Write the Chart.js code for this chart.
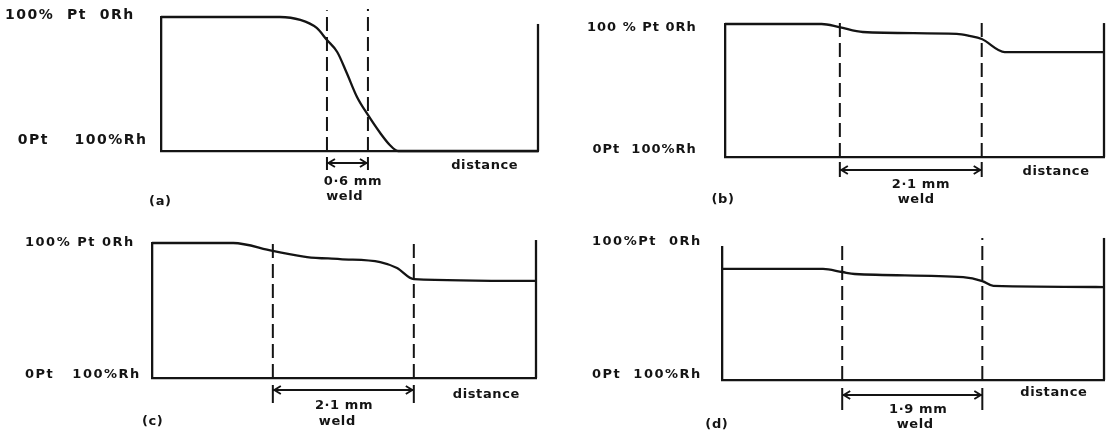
<!DOCTYPE html>
<html><head><meta charset="utf-8">
<script src="https://cdn.jsdelivr.net/npm/chart.js@4"></script>
<style>
html,body{margin:0;padding:0;background:#fff;}
body{width:1109px;height:437px;position:relative;overflow:hidden;}
.p{position:absolute;}
</style></head><body>
<div class="p" style="left:0;top:0;width:554px;height:218px"><canvas id="ca"></canvas></div>
<div class="p" style="left:554px;top:0;width:555px;height:218px"><canvas id="cb"></canvas></div>
<div class="p" style="left:0;top:218px;width:554px;height:219px"><canvas id="cc"></canvas></div>
<div class="p" style="left:554px;top:218px;width:555px;height:219px"><canvas id="cd"></canvas></div>
<script>
// ---- data (distance in mm, composition in % Pt) ----
const aX = [0, 1.74, 2.04, 2.28, 2.43, 2.58, 2.72, 2.87, 3.03, 3.21, 3.35, 3.47, 5.52];
const aY = [100, 100, 97.8, 91.8, 82.8, 73.9, 58.2, 40.3, 26.9, 13.4, 4.5, 0, 0];
const bX = [0, 1.43, 1.69, 2.04, 3.43, 3.62, 3.80, 4.14, 5.61];
const bY = [100, 100, 97.7, 94.0, 92.5, 91.0, 88.7, 78.9, 78.9];
const cX = [0, 1.21, 1.80, 2.31, 2.80, 3.40, 3.65, 3.90, 5.72];
const cY = [100, 100, 94.1, 89.6, 88.1, 85.9, 81.5, 73.3, 71.9];
const dX = [0, 1.37, 1.63, 1.80, 3.27, 3.53, 3.68, 5.18];
const dY = [83.5, 83.5, 81.2, 79.7, 77.4, 74.4, 70.7, 69.9];

const weldA = [2.43, 3.03];
const weldB = [1.70, 3.80];
const weldC = [1.80, 3.90];
const weldD = [1.63, 3.53];

const yLabelsA = ["100%  Pt  0Rh", "  0Pt    100%Rh"];
const yLabelsB = ["100 % Pt 0Rh", " 0Pt  100%Rh"];
const yLabelsC = ["100% Pt 0Rh", "0Pt   100%Rh"];
const yLabelsD = ["100%Pt  0Rh", "0Pt  100%Rh"];

const weldTextA = ["0·6 mm", "weld"];
const weldTextB = ["2·1 mm", "weld"];
const weldTextC = ["2·1 mm", "weld"];
const weldTextD = ["1·9 mm", "weld"];
const axisText = "distance";
const panelTags = ["(a)", "(b)", "(c)", "(d)"];

// ---- layout / style ----
const INK = '#141414';
const FONT = '"DejaVu Sans", sans-serif';

const panels = [
  { id:'ca', xs:aX, ys:aY, weld:weldA, yLabels:yLabelsA, wt:weldTextA, tag:panelTags[0],
    xMax:5.52, rightTop:94.8, dashTop:[105,106], tick:[-4.5,-14.2], arrowY:-9,
    pos:{w1:[2.81,-23.1], w2:[2.69,-34.3], dist:[4.74,-11.2], tag:[-0.01,-38.1]},
    pad:{left:5, top:17, right:16, bottom:67}, yW:156, tickSize:14, tickLS:'1.5px', labelOffset:-2, lh:1.29 },
  { id:'cb', xs:bX, ys:bY, weld:weldB, yLabels:yLabelsB, wt:weldTextB, tag:panelTags[1],
    xMax:5.61, rightTop:100.7, dashTop:[101,104], tick:[-3.8,-15], arrowY:-9.8,
    pos:{w1:[2.90,-21.1], w2:[2.83,-32.3], dist:[4.90,-11.3], tag:[-0.03,-32.3]},
    pad:{left:33, top:24, right:5, bottom:61}, yW:138, tickSize:13, tickLS:'1px', labelOffset:4, lh:1.69 },
  { id:'cc', xs:cX, ys:cY, weld:weldC, yLabels:yLabelsC, wt:weldTextC, tag:panelTags[2],
    xMax:5.72, rightTop:102.2, dashTop:[101.5,101.5], tick:[-5.2,-18.5], arrowY:-8.9,
    pos:{w1:[2.86,-20.7], w2:[2.76,-32.6], dist:[4.98,-12.6], tag:[0.01,-32.6]},
    pad:{left:25, top:25, right:18, bottom:59}, yW:127, tickSize:13, tickLS:'1.5px', labelOffset:0, lh:0.46 },
  { id:'cd', xs:dX, ys:dY, weld:weldD, yLabels:yLabelsD, wt:weldTextD, tag:panelTags[3],
    xMax:5.18, rightTop:106.8, dashTop:[103.8,106.8], tick:[-6,-22.6], arrowY:-11.3,
    pos:{w1:[2.66,-22.6], w2:[2.62,-33.8], dist:[4.50,-9.8], tag:[-0.07,-33.8]},
    pad:{left:38, top:29, right:5, bottom:57}, yW:130, tickSize:13, tickLS:'1.5px', labelOffset:-5, lh:0.1 }
];

function seg(x0,y0,x1,y1){ return [{x:x0,y:y0},{x:x1,y:y1}]; }

function makePanel(p){
  const base = {borderColor:INK, pointRadius:0, clip:false, fill:false};
  const ds = [];
  ds.push(Object.assign({}, base, {data:p.xs.map((x,i)=>({x:x, y:p.ys[i]})), borderWidth:2.3, cubicInterpolationMode:'monotone'}));
  ds.push(Object.assign({}, base, {data:seg(p.xMax,0,p.xMax,p.rightTop), borderWidth:2.3}));
  p.weld.forEach((w,i)=>{
    ds.push(Object.assign({}, base, {data:seg(w,0,w,p.dashTop[i]), borderWidth:2, borderDash:[14,6]}));
    ds.push(Object.assign({}, base, {data:seg(w,p.tick[0],w,p.tick[1]), borderWidth:2}));
  });
  ds.push(Object.assign({}, base, {data:seg(p.weld[0],p.arrowY,p.weld[1],p.arrowY), borderWidth:1.9}));

  const annot = {
    id:'annot_'+p.id,
    beforeDraw(chart){ chart.ctx.letterSpacing = p.tickLS; },
    beforeDatasetsDraw(chart){ chart.ctx.letterSpacing = '0px'; },
    afterDraw(chart){
      const ctx = chart.ctx, x = chart.scales.x, y = chart.scales.y;
      ctx.save();
      ctx.letterSpacing = '0.6px';
      ctx.fillStyle = INK; ctx.strokeStyle = INK;
      ctx.font = 'bold 13px ' + FONT;
      ctx.textAlign = 'center'; ctx.textBaseline = 'middle';
      const put = (s, pr) => ctx.fillText(s, x.getPixelForValue(pr[0]), y.getPixelForValue(pr[1]));
      put(p.wt[0], p.pos.w1);
      put(p.wt[1], p.pos.w2);
      put(axisText, p.pos.dist);
      put(p.tag, p.pos.tag);
      const ay = y.getPixelForValue(p.arrowY);
      const xl = x.getPixelForValue(p.weld[0]), xr = x.getPixelForValue(p.weld[1]);
      ctx.lineWidth = 1.9;
      ctx.beginPath();
      ctx.moveTo(xl+8, ay-4); ctx.lineTo(xl+1.5, ay); ctx.lineTo(xl+8, ay+4);
      ctx.moveTo(xr-8, ay-4); ctx.lineTo(xr-1.5, ay); ctx.lineTo(xr-8, ay+4);
      ctx.stroke();
      ctx.restore();
    }
  };

  new Chart(document.getElementById(p.id), {
    type:'line',
    data:{datasets:ds},
    options:{
      responsive:true, maintainAspectRatio:false, animation:false, events:[],
      layout:{padding:p.pad},
      plugins:{legend:{display:false}, tooltip:{enabled:false}},
      scales:{
        x:{type:'linear', min:0, max:p.xMax,
           grid:{display:false, drawTicks:false}, ticks:{display:false},
           border:{display:true, color:INK, width:2.3},
           afterFit:(s)=>{ s.height = 0; }},
        y:{type:'linear', min:0, max:100,
           grid:{display:false, drawTicks:false},
           border:{display:true, color:INK, width:2.3},
           ticks:{crossAlign:'far', padding:0, labelOffset:p.labelOffset, color:INK, autoSkip:false,
                  font:{family:FONT, size:p.tickSize, weight:'bold', lineHeight:p.lh},
                  callback:(v)=> v === 100 ? p.yLabels[0] : [p.yLabels[1], ""]},
           afterBuildTicks:(s)=>{ s.ticks = [{value:0},{value:100}]; },
           afterFit:(s)=>{ s.width = p.yW; }}
      }
    },
    plugins:[annot]
  });
}
panels.forEach(makePanel);
</script>
</body></html>
